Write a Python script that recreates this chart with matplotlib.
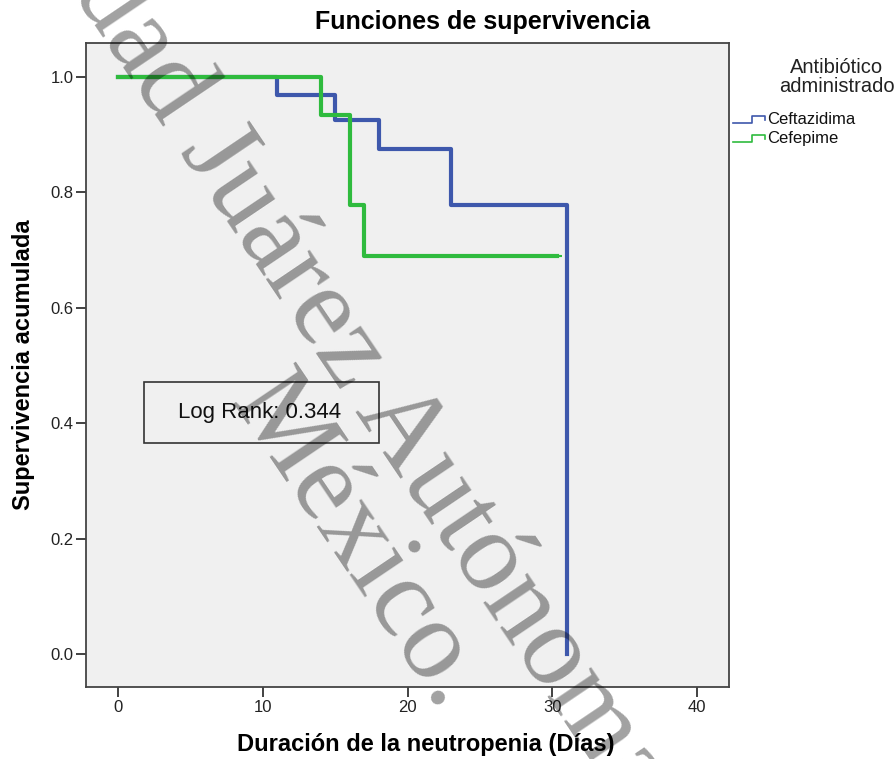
import matplotlib
matplotlib.use('Agg')
import matplotlib.pyplot as plt
from matplotlib.lines import Line2D
from matplotlib.patches import Rectangle

plt.rcParams['font.family'] = ['Liberation Sans', 'DejaVu Sans']

# Kaplan-Meier steps
cef_t = [0, 11, 15, 18, 23, 31]
cef_s = [1.0, 0.969, 0.926, 0.876, 0.778, 0.0]
cefe_t = [0, 14, 16, 17, 30.3]
cefe_s = [1.0, 0.935, 0.778, 0.690, 0.690]
cef_cens_t = [5, 9.3]
cef_cens_s = [1.0, 1.0]
cefe_cens_t = [30.3]
cefe_cens_s = [0.690]

groups = ['Ceftazidima', 'Cefepime']
colors = ['#3e58ac', '#2fbb3e']
x_ticks = [0, 10, 20, 30, 40]
y_ticks = [0.0, 0.2, 0.4, 0.6, 0.8, 1.0]
log_rank = 0.344
wm_lines = ['Universidad Juárez Autónoma de Tabasco.', 'México.']

W, H = 896, 759
fig = plt.figure(figsize=(W / 100, H / 100), dpi=100)
ax = fig.add_axes([86 / W, 1 - 687 / H, (729 - 86) / W, (687 - 43) / H])
ax.set_facecolor('#f0f0f0')

ax.step(cef_t, cef_s, where='post', color=colors[0], lw=3, zorder=3)
ax.step(cefe_t, cefe_s, where='post', color=colors[1], lw=3, zorder=4)
ax.plot(cef_cens_t, cef_cens_s, ls='none', marker='_', ms=9, mew=1.5,
        color=colors[0], zorder=3)
ax.plot(cefe_cens_t, cefe_cens_s, ls='none', marker='_', ms=7, mew=1.5,
        color=colors[1], zorder=4)

ax.set_xlim(-2.2, 42.2)
ax.set_ylim(-0.057, 1.059)
ax.set_xticks(x_ticks)
ax.set_yticks(y_ticks)
ax.set_yticklabels([f'{v:.1f}' for v in y_ticks])
ax.tick_params(length=7, width=1.3, colors='#333333', labelsize=12, pad=2,
               labelcolor='#222222')
for sp in ax.spines.values():
    sp.set_color('#444444')
    sp.set_linewidth(1.3)

# Log rank box
ax.add_patch(Rectangle((1.8, 0.365), 16.2, 0.106, fill=False,
                       ec='#333333', lw=1.2, zorder=5))
ax.text(9.8, 0.418, f'Log Rank: {log_rank}', ha='center', va='center',
        fontsize=16, color='#111111', zorder=6)

fig.text(482 / W, 1 - 22 / H, 'Funciones de supervivencia', ha='center',
         va='center', fontsize=18, fontweight='bold')
fig.text(426 / W, 1 - 745 / H, 'Duración de la neutropenia (Días)',
         ha='center', va='center', fontsize=17, fontweight='bold')
fig.text(24 / W, 1 - 365 / H, 'Supervivencia acumulada', ha='center',
         va='center', rotation=90, fontsize=17, fontweight='bold')

# legend
fig.text(837 / W, 1 - 77 / H, 'Antibiótico\nadministrado', ha='center',
         va='center', fontsize=14.5, linespacing=1.0, color='#222222')
for i, (g, c) in enumerate(zip(groups, colors)):
    yc = 120 + 19 * i
    xs = [733, 752, 752, 765, 765]
    ys = [yc + 3, yc + 3, yc - 4, yc - 4, yc]
    fig.add_artist(Line2D([x / W for x in xs], [1 - y / H for y in ys],
                          color=c, lw=1.2, transform=fig.transFigure))
    fig.text(767 / W, 1 - yc / H, g, ha='left', va='center', fontsize=12,
             color='#111111')

# watermark, one text per line
for (px, py), line in zip([(418, 455), (358, 543)], wm_lines):
    fig.text(px / W, 1 - py / H, line, ha='center', va='center',
             rotation=-56, rotation_mode='anchor', fontsize=82,
             family='Liberation Serif', color='black', alpha=0.37, zorder=20)

fig.savefig('out.png', dpi=100)
